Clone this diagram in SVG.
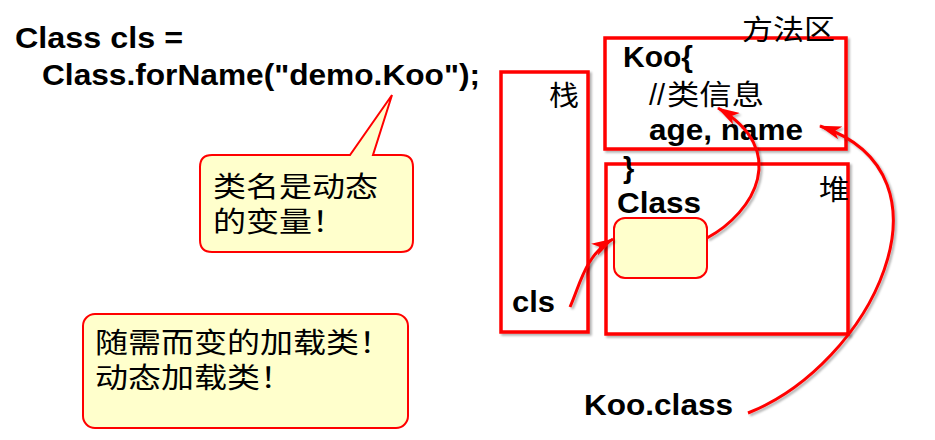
<svg xmlns="http://www.w3.org/2000/svg" width="935" height="440" viewBox="0 0 935 440">
<style>
.b{font-family:"Liberation Sans",Arial,sans-serif;font-weight:bold;font-size:29px;fill:#000}
.c{font-family:"Noto Sans CJK SC","Liberation Sans",sans-serif;font-size:28px;fill:#000}
.box{fill:#fff;stroke:#ff0000;stroke-width:3.5;filter:url(#sh)}
.note{fill:#ffffcc;stroke:#ff0000;stroke-width:2}
.con{fill:none;stroke:#ff0000;stroke-width:3;marker-end:url(#ah);filter:url(#sh)}
</style>
<defs>
<filter id="sh" x="-10%" y="-10%" width="130%" height="130%">
<feDropShadow dx="2" dy="2" stdDeviation="1.2" flood-color="#000" flood-opacity="0.3"/>
</filter>
<marker id="ah" viewBox="0 0 20 12" refX="19" refY="6" markerWidth="7.5" markerHeight="4.5" orient="auto" markerUnits="strokeWidth">
<path d="M0,0 L20,6 L0,12 L5,6 Z" fill="#ff0000"/>
</marker>
</defs>
<rect width="935" height="440" fill="#fff"/>

<g id="code">
<text class="b" x="15" y="48" textLength="168" lengthAdjust="spacingAndGlyphs">Class cls =</text>
<text class="b" x="42" y="85" textLength="438" lengthAdjust="spacingAndGlyphs">Class.forName("demo.Koo");</text>
</g>

<g id="callout1">
<path class="note" d="M212,155 L350,155 L392,95 L373,155 L401,155 Q413,155 413,167 L413,240 Q413,252 401,252 L212,252 Q200,252 200,240 L200,167 Q200,155 212,155 Z"/>
<text class="c" x="213" y="197" textLength="165" lengthAdjust="spacingAndGlyphs">类名是动态</text>
<text class="c" x="213" y="232" textLength="132" lengthAdjust="spacingAndGlyphs">的变量！</text>
</g>

<g id="callout2">
<rect class="note" x="83" y="314" width="325" height="114" rx="12"/>
<text class="c" x="95" y="353" textLength="297" lengthAdjust="spacingAndGlyphs">随需而变的加载类！</text>
<text class="c" x="95" y="388" textLength="198" lengthAdjust="spacingAndGlyphs">动态加载类！</text>
</g>

<g id="method-area">
<rect class="box" x="605" y="38" width="241" height="111"/>
<text class="c" x="742" y="40" textLength="93" lengthAdjust="spacingAndGlyphs">方法区</text>
<text class="b" x="623" y="67" textLength="70" lengthAdjust="spacingAndGlyphs">Koo{</text>
<text class="b" x="649" y="105" style="font-weight:normal">//</text>
<text class="c" x="667" y="105" textLength="97" lengthAdjust="spacingAndGlyphs">类信息</text>
<text class="b" x="649" y="140" textLength="154" lengthAdjust="spacingAndGlyphs">age, name</text>
</g>

<g id="stack">
<rect class="box" x="501" y="72" width="87" height="260"/>
<text class="c" x="549" y="106" textLength="30" lengthAdjust="spacingAndGlyphs">栈</text>
<text class="b" x="512" y="312" textLength="43" lengthAdjust="spacingAndGlyphs">cls</text>
</g>

<g id="heap">
<rect class="box" x="606" y="164" width="242" height="170"/>
<text class="b" x="623" y="178">}</text>
<text class="c" x="819" y="200" textLength="30" lengthAdjust="spacingAndGlyphs">堆</text>
<text class="b" x="617" y="213" textLength="84" lengthAdjust="spacingAndGlyphs">Class</text>
<rect id="class-obj" class="note" x="614" y="218" width="93" height="60" rx="11"/>
</g>

<g id="koo-class">
<text class="b" x="584" y="415" textLength="149" lengthAdjust="spacingAndGlyphs">Koo.class</text>
</g>

<g id="connectors">
<path class="con" d="M570,307 C580,285 585,255 613,239"/>
<path class="con" d="M707,238 C755,212 790,150 718,108"/>
<path class="con" d="M748,413 C870,365 965,175 820,126"/>
</g>
</svg>
